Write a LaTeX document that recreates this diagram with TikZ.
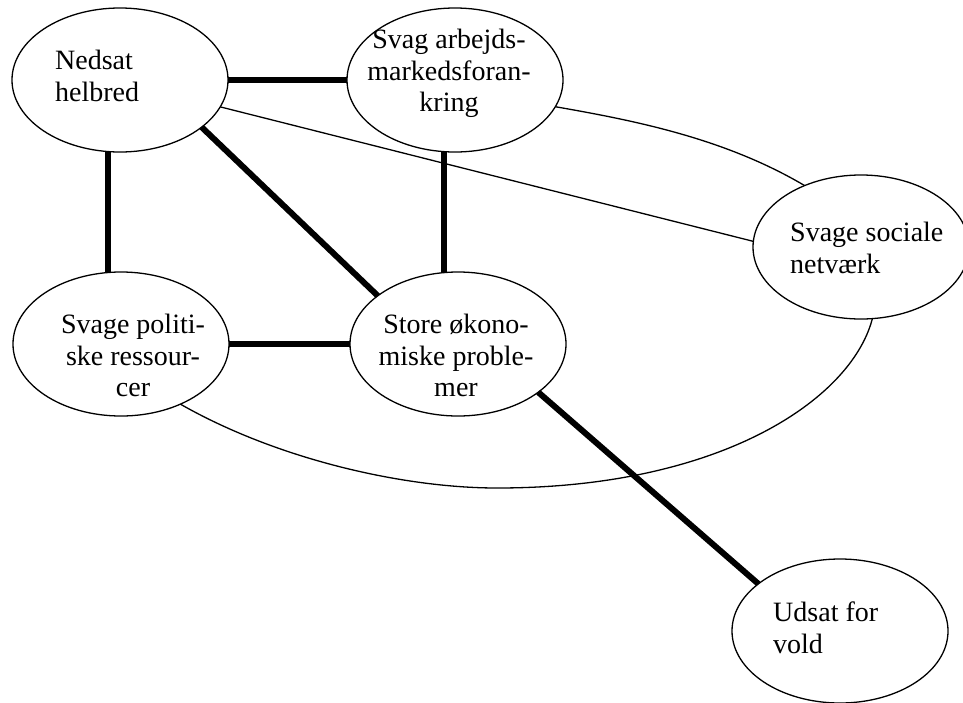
\documentclass[tikz,border=0pt]{standalone}
\usepackage{fontspec}
\setmainfont{Liberation Serif}
\usetikzlibrary{shapes.geometric}
\begin{document}
\begin{tikzpicture}[x=1pt,y=-1pt,
  bub/.style={draw, ellipse, line width=1.3pt, fill=white, minimum width=216pt, minimum height=144pt, inner sep=0pt, outer sep=0pt},
  lbl/.style={font=\fontsize{28}{31.5}\selectfont, inner sep=0pt},
  strong/.style={line width=6pt},
  weak/.style={line width=1.3pt}]
\useasboundingbox[fill=white] (0,0) rectangle (963,702);
% large enclosing curve (passes behind the bubbles)
\draw[weak] (165,395) .. controls (265,457) and (400,488) .. (497,488)
  .. controls (720,488) and (850,400) .. (872,320)
  .. controls (884,280) and (847,211) .. (807,187)
  .. controls (727,139) and (637,121) .. (557,107) -- (535,104);
% bubbles
\node[bub] (ned) at (120,80) {};
\node[bub] (svag) at (455,80) {};
\node[bub] (soc) at (861,247) {};
\node[bub] (pol) at (121,344) {};
\node[bub] (store) at (458,344) {};
\node[bub] (vold) at (840,631) {};
% connectors
\draw[strong] (ned.east) -- (svag.west);
\draw[strong] ([xshift=-12pt]ned.south) -- ([xshift=-13pt]pol.north);
\draw[strong] ([xshift=-11pt]svag.south) -- ([xshift=-14pt]store.north);
\draw[strong] (pol.east) -- (store.west);
\draw[strong] (ned.-30) -- (store.149);
\draw[strong] (store.-31) -- (vold.150);
\draw[weak] (ned.-15) -- (soc.177);
% labels
\node[lbl, align=left, anchor=north west] (tned) at (55,50) {Nedsat\\helbred};
\node[lbl, align=center, anchor=north] (tsvag) at (449,29) {Svag arbejds-\\markedsforan-\\kring};
\node[lbl, align=left, anchor=north west] (tsoc) at (790,222) {Svage sociale\\netværk};
\node[lbl, align=center, anchor=north] (tpol) at (133,314) {Svage politi-\\ske ressour-\\cer};
\node[lbl, align=center, anchor=north] (tstore) at (456,314) {Store økono-\\miske proble-\\mer};
\node[lbl, align=left, anchor=north west] (tvold) at (773,602) {Udsat for\\vold};
\end{tikzpicture}
\end{document}
